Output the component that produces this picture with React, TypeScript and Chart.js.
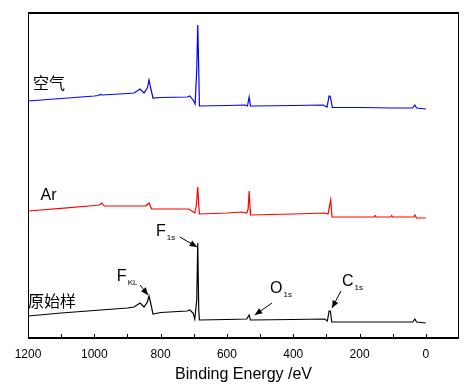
import React, { useEffect, useRef } from "react";
import { Chart, registerables } from "chart.js";

Chart.register(...registerables);

// Binding energy (eV) and relative intensity for each sample
const airEnergy = [1200, 1100, 1000, 988, 982, 976, 900, 880, 862, 850, 840, 835, 830, 823, 800, 720, 712, 700, 696, 691, 688, 685, 683, 600, 545, 538, 533, 529, 520, 400, 310, 298, 292, 289, 286, 282, 200, 100, 40, 33, 28, 15, 0];
const airIntensity = [238, 240.5, 243, 243.5, 244.5, 244, 245.5, 246, 250, 246, 251, 259, 251, 241, 241.5, 242, 243, 238, 235, 269, 314, 270, 233, 233.5, 234, 233, 242, 233, 233, 233.5, 234, 232, 243, 243, 239, 231.5, 231.5, 231, 231, 234, 231, 230.5, 230];

const arEnergy = [1200, 1100, 1000, 985, 977, 970, 900, 845, 835, 827, 800, 715, 697, 692, 688, 685, 683, 600, 555, 540, 536, 533, 530, 529, 400, 305, 295, 290, 287, 283, 200, 156, 153, 150, 106, 103, 100, 36, 33, 28, 0];
const arIntensity = [128, 130.7, 133.5, 134, 136, 133, 133, 133, 136, 130, 130, 130, 126, 134, 152, 134, 125, 126, 127, 126, 130, 148, 130, 124, 125, 126, 125, 134, 139, 122, 122, 122, 123.5, 122, 122, 123.5, 122, 122, 124, 121, 121];

const rawEnergy = [1200, 1100, 1000, 900, 880, 862, 850, 840, 835, 830, 823, 800, 720, 712, 702, 697, 691, 688, 685, 683, 600, 540, 533, 529, 400, 305, 297, 292, 288, 284, 200, 40, 33, 28, 0];
const rawIntensity = [23, 26, 28.5, 31, 32, 36, 32, 37, 43, 36, 25, 26.5, 28, 29, 26, 20, 39, 96, 29, 19, 19.5, 20, 24, 19, 19.5, 20, 18, 28, 28, 17, 17, 17, 20, 17, 16];

const xTicks = [1200, 1000, 800, 600, 400, 200, 0];

// Annotations: [main letter, subscript, text energy, text intensity, arrow from E, from I, to E, to I]
const peakLabels: [string, string, number, number, number, number, number, number][] = [
  ["F", "1s", 814, 107, 742, 102, 690, 92],
  ["F", "KL", 932, 62, 862, 54, 838, 44],
  ["O", "1s", 470, 50, 464, 36, 516, 24],
  ["C", "1s", 253, 57, 256, 48, 283, 31],
];

const seriesNames = ["空气", "Ar", "原始样"];
const seriesNamePos: [number, number][] = [[1185, 256], [1162, 143], [1200, 38]];

const mkData = (es: number[], is: number[]) => es.map((e, i) => ({ x: e, y: is[i] }));

export default function App() {
  const ref = useRef<HTMLCanvasElement | null>(null);
  useEffect(() => {
    if (!ref.current) return;
    const font = "'Liberation Sans', Arial, sans-serif";
    const overlay = {
      id: "overlay",
      afterDraw(chart: any) {
        const ctx = chart.ctx;
        const xs = chart.scales.x;
        const ys = chart.scales.y;
        const a = chart.chartArea;
        ctx.save();
        ctx.strokeStyle = "#000";
        // frame
        ctx.lineWidth = 1;
        ctx.beginPath();
        ctx.moveTo(a.left + 0.5, a.top);
        ctx.lineTo(a.left + 0.5, a.bottom);
        ctx.moveTo(a.right - 0.5, a.top);
        ctx.lineTo(a.right - 0.5, a.bottom);
        ctx.stroke();
        ctx.lineWidth = 2;
        ctx.beginPath();
        ctx.moveTo(a.left, a.top + 1);
        ctx.lineTo(a.right, a.top + 1);
        ctx.moveTo(a.left, a.bottom - 1);
        ctx.lineTo(a.right, a.bottom - 1);
        ctx.stroke();
        // inward ticks
        ctx.lineWidth = 1;
        ctx.beginPath();
        for (let v = 1100; v >= 0; v -= 100) {
          const px = Math.round(xs.getPixelForValue(v)) + 0.5;
          ctx.moveTo(px, a.bottom - 1);
          ctx.lineTo(px, a.bottom - 5);
        }
        ctx.stroke();
        // series names
        ctx.fillStyle = "#000";
        ctx.textBaseline = "middle";
        ctx.textAlign = "left";
        seriesNames.forEach((n, i) => {
          const [e, v] = seriesNamePos[i];
          const cjk = /[^\x00-\x7f]/.test(n);
          ctx.font = `16px ${cjk ? "'Noto Sans CJK SC', sans-serif" : font}`;
          ctx.fillText(n, xs.getPixelForValue(e), ys.getPixelForValue(v));
        });
        // peak labels
        peakLabels.forEach(([m, sub, e, v, fe, fv, te, tv]) => {
          const px = xs.getPixelForValue(e);
          const py = ys.getPixelForValue(v);
          ctx.font = `16px ${font}`;
          ctx.textAlign = "left";
          ctx.fillText(m, px, py);
          const w = ctx.measureText(m).width;
          ctx.font = `8px ${font}`;
          ctx.fillText(sub, px + w + 1, py + 6);
          const x1 = xs.getPixelForValue(fe), y1 = ys.getPixelForValue(fv);
          const x2 = xs.getPixelForValue(te), y2 = ys.getPixelForValue(tv);
          ctx.lineWidth = 1;
          ctx.beginPath();
          ctx.moveTo(x1, y1);
          ctx.lineTo(x2, y2);
          ctx.stroke();
          const ang = Math.atan2(y2 - y1, x2 - x1);
          const L = 8, W = 0.4;
          ctx.beginPath();
          ctx.moveTo(x2, y2);
          ctx.lineTo(x2 - L * Math.cos(ang - W), y2 - L * Math.sin(ang - W));
          ctx.lineTo(x2 - L * Math.cos(ang + W), y2 - L * Math.sin(ang + W));
          ctx.closePath();
          ctx.fill();
        });
        ctx.restore();
      },
    };
    const chart = new Chart(ref.current, {
      type: "line",
      data: {
        datasets: [
          { label: "空气", data: mkData(airEnergy, airIntensity), borderColor: "#0000ff", borderWidth: 1.2, pointRadius: 0, tension: 0 },
          { label: "Ar", data: mkData(arEnergy, arIntensity), borderColor: "#ff0000", borderWidth: 1.2, pointRadius: 0, tension: 0 },
          { label: "原始样", data: mkData(rawEnergy, rawIntensity), borderColor: "#000000", borderWidth: 1.2, pointRadius: 0, tension: 0 },
        ],
      },
      options: {
        animation: false,
        responsive: false,
        parsing: false as any,
        layout: { padding: { left: 28, right: 15, top: 12, bottom: 0 } },
        plugins: { legend: { display: false }, tooltip: { enabled: false } },
        scales: {
          x: {
            type: "linear",
            reverse: true,
            min: -100,
            max: 1200,
            afterFit: (s: any) => { s.height = 51; },
            afterBuildTicks: (s: any) => { s.ticks = xTicks.map((v) => ({ value: v })); },
            grid: { display: false, drawTicks: false },
            border: { display: false },
            ticks: { autoSkip: false, maxRotation: 0, padding: 8, color: "#000", font: { size: 12, family: font }, callback: (v: any) => String(v) },
            title: { display: true, text: "Binding Energy /eV", color: "#000", font: { size: 16, family: font }, padding: { top: 0, bottom: 6 } },
          },
          y: { display: false, min: 0, max: 327 },
        },
      },
      plugins: [overlay],
    });
    return () => chart.destroy();
  }, []);
  return (
    <div style={{ position: "fixed", left: 0, top: 0, width: 474, height: 390, background: "#fff" }}>
      <canvas ref={ref} width={474} height={390} style={{ display: "block" }} />
    </div>
  );
}
